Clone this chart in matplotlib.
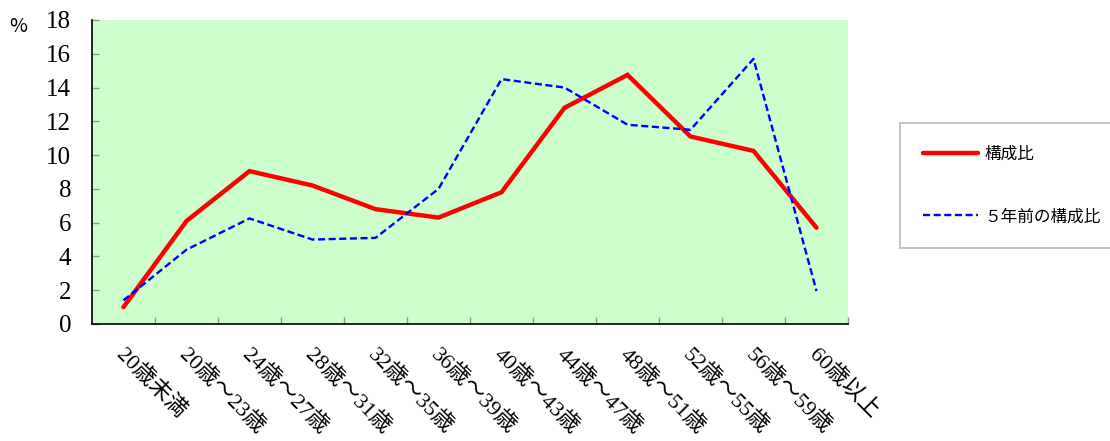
import matplotlib
import numpy as np
import matplotlib.pyplot as plt
import matplotlib.transforms as mtrans

matplotlib.use('Agg')
plt.rcParams['font.family'] = ['Noto Sans CJK JP', 'DejaVu Sans']

categories = ['20歳未満', '20歳～23歳', '24歳～27歳', '28歳～31歳', '32歳～35歳',
              '36歳～39歳', '40歳～43歳', '44歳～47歳', '48歳～51歳', '52歳～55歳',
              '56歳～59歳', '60歳以上']
ratio_now = [1.0, 6.1, 9.05, 8.2, 6.8, 6.3, 7.8, 12.8, 14.75, 11.1, 10.25, 5.7]
ratio_5y = [1.4, 4.4, 6.25, 5.0, 5.1, 8.0, 14.5, 14.0, 11.8, 11.5, 15.7, 1.95]
names = ['構成比', '５年前の構成比']

fig = plt.figure(figsize=(11.1, 4.41), dpi=100)
ax = fig.add_axes([92 / 1110, 1 - 324 / 441, 756 / 1110, 304 / 441])
ax.set_facecolor('#CCFFCC')

x = np.arange(len(categories)) + 0.5
ax.plot(x, ratio_now, color='red', lw=3.2, solid_capstyle='round',
        solid_joinstyle='miter', label=names[0])
ax.plot(x, ratio_5y, color='blue', lw=1.7, ls=(0, (3, 1.5)), label=names[1])

ax.set_xlim(0, len(categories))
ax.set_ylim(0, 18)
ax.set_yticks(np.arange(0, 19, 2))
ax.set_xticks(np.arange(1, len(categories) + 1))
ax.set_xticklabels([])
ax.tick_params(axis='both', direction='in', color='#8a9a8a', length=5, width=1)
ax.tick_params(axis='y', pad=15)
for lab in ax.get_yticklabels():
    lab.set_fontfamily(['Liberation Serif', 'DejaVu Serif'])
    lab.set_fontsize(18)
ax.spines['top'].set_visible(False)
ax.spines['right'].set_visible(False)
ax.spines['left'].set_linewidth(1.2)
ax.spines['bottom'].set_linewidth(1.2)

# rotated category labels
off = mtrans.offset_copy(ax.get_xaxis_transform(), fig=fig, x=2, y=-15, units='points')
for xi, cat in zip(x, categories):
    ax.text(xi, 0, cat, transform=off, rotation=-45, rotation_mode='anchor',
            ha='left', va='top', fontsize=16,
            family=['Liberation Serif', 'Noto Sans CJK JP'])

fig.text(18 / 1110, 1 - 27 / 441, '%', fontsize=14, ha='center', va='center')

leg = fig.legend(loc='upper left', bbox_to_anchor=(900 / 1110, 1 - 123 / 441),
                 frameon=True, fancybox=False, fontsize=12, handlelength=3.3,
                 labelspacing=2.75, borderpad=1.35, borderaxespad=0, handletextpad=0.4)
leg.get_frame().set_edgecolor('#aaaaaa')
leg.get_frame().set_linewidth(1.2)

plt.savefig('out.png', dpi=100)
